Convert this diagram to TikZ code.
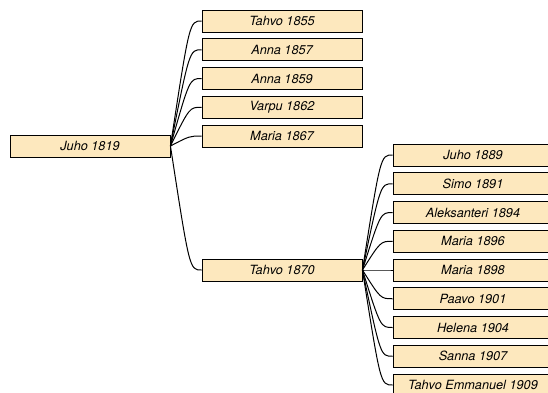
\documentclass[tikz,border=0pt]{standalone}
\usepackage{fontspec}
\setmainfont{TeX Gyre Heros}
\usepackage{tikz}
\usetikzlibrary{positioning}

\definecolor{personfill}{RGB}{253,232,190}

\begin{document}
\begin{tikzpicture}[x=1pt,y=-1pt,node distance=28.75pt]
\tikzstyle{person}=[rectangle,draw=black,fill=personfill,line width=0.9pt,
inner sep=0pt,minimum width=160pt,minimum height=22pt,
font=\fontsize{12.7}{14}\selectfont\itshape]
\tikzstyle{link}=[line width=1pt]
\useasboundingbox (0,0) rectangle (548,392);
\clip (0,0) rectangle (548,392);
% first generation
\node[person] (juho1819) at (90,146) {Juho 1819};
% children
\node[person] (tahvo1855) at (282,21) {Tahvo 1855};
\node[person] (anna1857) [below of=tahvo1855] {Anna 1857};
\node[person] (anna1859) [below of=anna1857] {Anna 1859};
\node[person] (varpu1862) [below of=anna1859] {Varpu 1862};
\node[person] (maria1867) [below of=varpu1862] {Maria 1867};
\node[person] (tahvo1870) at (282,270) {Tahvo 1870};
% grandchildren
\node[person] (juho1889) at (473,155) {Juho 1889};
\node[person] (simo1891) [below of=juho1889] {Simo 1891};
\node[person] (aleksanteri1894) [below of=simo1891] {Aleksanteri 1894};
\node[person] (maria1896) [below of=aleksanteri1894] {Maria 1896};
\node[person] (maria1898) [below of=maria1896] {Maria 1898};
\node[person] (paavo1901) [below of=maria1898] {Paavo 1901};
\node[person] (helena1904) [below of=paavo1901] {Helena 1904};
\node[person] (sanna1907) [below of=helena1904] {Sanna 1907};
\node[person] (tahvoemmanuel1909) [below of=sanna1907] {Tahvo Emmanuel 1909};
% links
\foreach \c in {tahvo1855,anna1857,anna1859,varpu1862,maria1867,tahvo1870}
  \draw[link] (juho1819.east) .. controls ([xshift=-12pt]\c.west) .. (\c.west);
\foreach \c in {juho1889,simo1891,aleksanteri1894,maria1896,maria1898,
  paavo1901,helena1904,sanna1907,tahvoemmanuel1909}
  \draw[link] (tahvo1870.east) .. controls ([xshift=-12pt]\c.west) .. (\c.west);
\end{tikzpicture}
\end{document}
